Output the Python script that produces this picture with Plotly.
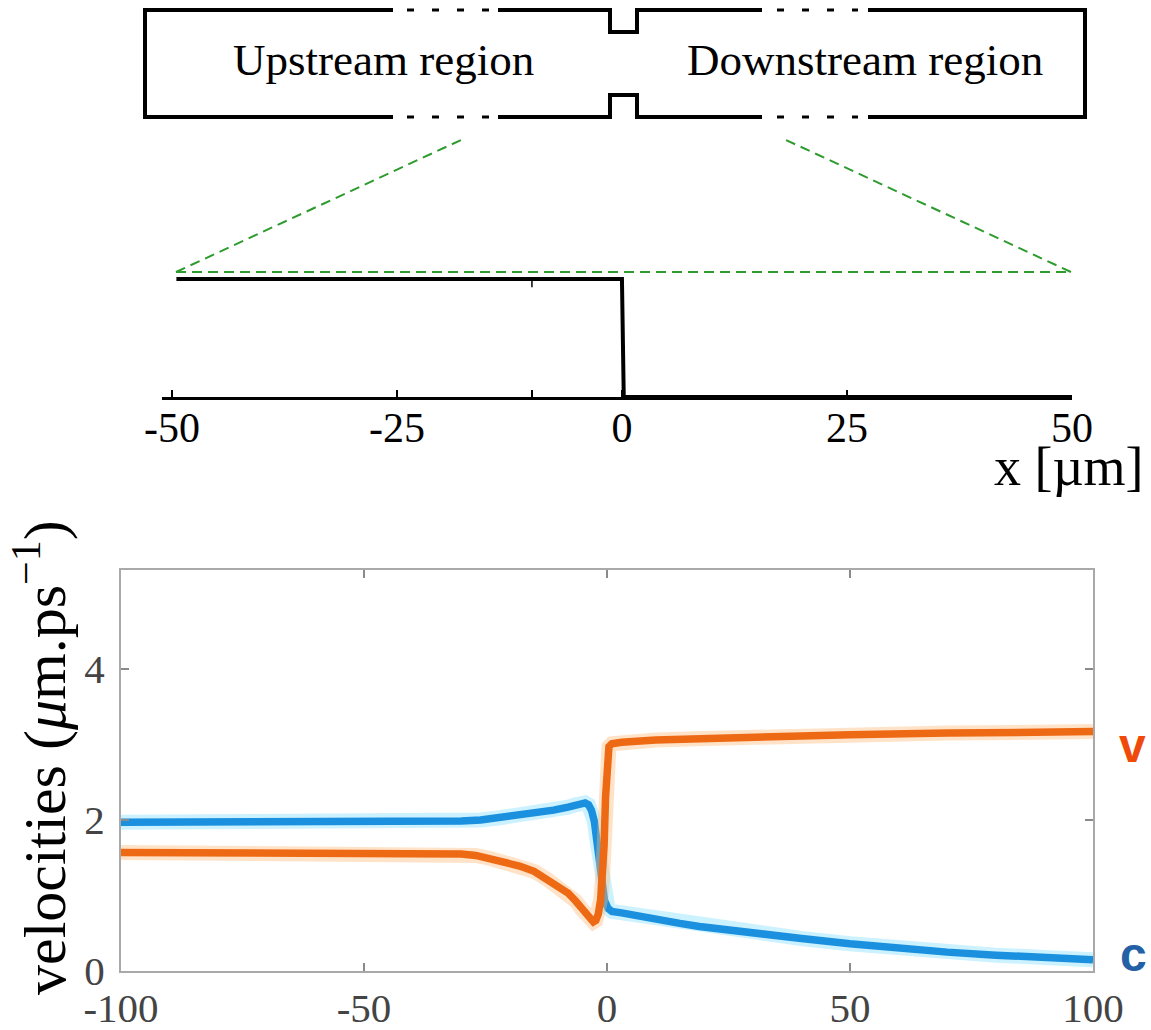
import plotly.graph_objects as go

W, H = 1151, 1030

# ---------------- data: velocities (bottom panel) ----------------
x_c = [-100, -80, -60, -45, -40, -35, -30, -26, -22, -18, -14, -11, -8, -6.5, -5.5,
       -4.5, -3.8, -3.2, -2.6, -2.1, -1.6, -1.1, -0.5, 0.2, 1.0, 3, 6, 10, 15, 19, 25,
       30, 40, 50, 60, 70, 80, 90, 100]
c_vals = [1.97, 1.97, 1.97, 1.97, 1.97, 1.975, 1.985, 2.0, 2.03, 2.06, 2.10, 2.13, 2.17,
          2.20, 2.22, 2.225, 2.20, 2.13, 1.98, 1.75, 1.45, 1.15, 0.93, 0.83, 0.79, 0.77,
          0.73, 0.68, 0.63, 0.59, 0.54, 0.50, 0.43, 0.36, 0.30, 0.25, 0.21, 0.18, 0.15]

x_v = [-100, -80, -60, -45, -40, -35, -30, -27, -24, -21, -18, -15, -12.4, -10, -8,
       -6.5, -5.2, -4.2, -3.4, -2.8, -2.3, -1.8, -1.3, -0.9, -0.6, -0.3, 0.0, 0.4,
       1.0, 3, 10, 20, 35, 50, 70, 100]
v_vals = [1.57, 1.57, 1.57, 1.57, 1.57, 1.565, 1.55, 1.53, 1.49, 1.44, 1.39, 1.32, 1.22,
          1.12, 1.03, 0.93, 0.82, 0.73, 0.67, 0.65, 0.67, 0.75, 0.95, 1.25, 1.65, 2.3,
          2.8, 2.97, 3.01, 3.03, 3.06, 3.08, 3.11, 3.13, 3.15, 3.17]

vel_xticks = [-100, -50, 0, 50, 100]
vel_xticktext = ["-100", "-50", "0", "50", "100"]
vel_yticks = [0, 2, 4]

# ---------------- data: step profile (middle panel) ----------------
x_step = [-49.5, 0.0, 0.2, 50.0]
y_step = [1, 1, 0, 0]
step_ticks = [-50, -25, 0, 25, 50]
step_ticktext = ["-50", "-25", "0", "25", "50"]
step_minor_ticks = [-10]

ORANGE = "#EE6914"
BLUE = "#1A90DE"
SERIF = "Liberation Serif"


def px(x):
    return x / W


def py(y):
    return 1 - y / H


fig = go.Figure()

# glow + main lines
fig.add_trace(go.Scatter(x=x_c, y=c_vals, mode="lines", xaxis="x", yaxis="y",
                         line=dict(color="rgba(110,215,255,0.35)", width=15),
                         hoverinfo="skip", showlegend=False))
fig.add_trace(go.Scatter(x=x_c, y=c_vals, mode="lines", xaxis="x", yaxis="y",
                         line=dict(color=BLUE, width=7.5), name="c", showlegend=False))
fig.add_trace(go.Scatter(x=x_v, y=v_vals, mode="lines", xaxis="x", yaxis="y",
                         line=dict(color="rgba(255,185,120,0.40)", width=15),
                         hoverinfo="skip", showlegend=False))
fig.add_trace(go.Scatter(x=x_v, y=v_vals, mode="lines", xaxis="x", yaxis="y",
                         line=dict(color=ORANGE, width=7.5), name="v", showlegend=False))

# step profile
fig.add_trace(go.Scatter(x=x_step, y=y_step, mode="lines", xaxis="x2", yaxis="y2",
                         line=dict(color="black", width=4), showlegend=False))

grey_axis = dict(showline=True, linecolor="#a9a9a9", linewidth=2, mirror="ticks",
                 ticks="inside", ticklen=8, tickwidth=2, tickcolor="#8a8a8a",
                 showgrid=False, zeroline=False, automargin=False,
                 tickfont=dict(family=SERIF, size=41, color="#444444"))

fig.update_layout(
    width=W, height=H,
    margin=dict(l=0, r=0, t=0, b=0, pad=0, autoexpand=False),
    paper_bgcolor="white", plot_bgcolor="rgba(0,0,0,0)",
    showlegend=False,
    xaxis=dict(domain=[px(121), px(1093)], range=[-100, 100], anchor="y",
               tickvals=vel_xticks, ticktext=vel_xticktext, ticklabelstandoff=0,
               **grey_axis),
    yaxis=dict(domain=[py(971), py(570)], range=[0, 5.31], anchor="x",
               tickvals=vel_yticks, ticklabelstandoff=6, **grey_axis),
    xaxis2=dict(domain=[px(162), px(1072)], range=[-51.1, 50], anchor="y2",
                showline=True, linecolor="black", linewidth=2.5, ticks="inside",
                ticklen=7, tickwidth=1.5, tickcolor="black", showgrid=False,
                zeroline=False, automargin=False, ticklabelstandoff=-8,
                tickvals=step_ticks, ticktext=step_ticktext,
                minor=dict(tickvals=step_minor_ticks, ticks="inside", ticklen=7,
                           tickwidth=1.5, tickcolor="black", showgrid=False),
                tickfont=dict(family=SERIF, size=42, color="black")),
    yaxis2=dict(domain=[py(397), py(397 - 1.2 * 118)], range=[0, 1.2], anchor="x2",
                visible=False, automargin=False),
)

shapes = []

# channel outline (schematic, pixel geometry)
outline_paths = [
    [(393, 10), (145, 10), (145, 117), (393, 117)],
    [(498, 10), (610, 10), (610, 32), (637, 32), (637, 10), (762, 10)],
    [(498, 117), (610, 117), (610, 95), (637, 95), (637, 117), (762, 117)],
    [(868, 10), (1085, 10), (1085, 117), (868, 117)],
]
for pts in outline_paths:
    d = "M " + " L ".join(f"{px(x):.5f},{py(y):.5f}" for x, y in pts)
    shapes.append(dict(type="path", path=d, xref="paper", yref="paper",
                       line=dict(color="black", width=4)))

dotted_segments = [((407, 10), (491, 10)), ((407, 117), (491, 117)),
                   ((777, 10), (858, 10)), ((777, 117), (858, 117))]
for (x0, y0), (x1, y1) in dotted_segments:
    shapes.append(dict(type="line", xref="paper", yref="paper",
                       x0=px(x0), y0=py(y0), x1=px(x1), y1=py(y1),
                       line=dict(color="black", width=3, dash="7px,18px")))

GREEN = "#2E9B2E"
green_segments = [((176, 272), (1071, 272)), ((176, 272), (461, 140)),
                  ((1071, 272), (786, 140))]
for (x0, y0), (x1, y1) in green_segments:
    shapes.append(dict(type="line", xref="paper", yref="paper",
                       x0=px(x0), y0=py(y0), x1=px(x1), y1=py(y1),
                       line=dict(color=GREEN, width=2, dash="10px,6px")))

# extra tick on the upper level of the step profile
shapes.append(dict(type="line", xref="x2", yref="y2", x0=-10, x1=-10, y0=1, y1=0.93,
                   line=dict(color="black", width=1.5)))

fig.update_layout(shapes=shapes)

annotations = [
    dict(text="Upstream region", x=px(383), y=py(60), font=dict(family=SERIF, size=45, color="black")),
    dict(text="Downstream region", x=px(865), y=py(60), font=dict(family=SERIF, size=45, color="black")),
    dict(text="x [µm]", x=px(1146), y=py(467), xanchor="right",
         font=dict(family=SERIF, size=54, color="black")),
    dict(text="velocities (<i>μ</i>m.ps<sup>−1</sup>)", x=px(40), y=py(758), textangle=-90,
         font=dict(family=SERIF, size=60, color="black")),
    dict(text="<b>v</b>", x=px(1132), y=py(745),
         font=dict(family="Liberation Sans", size=48, color="#F04A0A")),
    dict(text="<b>c</b>", x=px(1133), y=py(954),
         font=dict(family="Liberation Sans", size=48, color="#2360A5")),
]
for a in annotations:
    a.setdefault("xref", "paper")
    a.setdefault("yref", "paper")
    a.setdefault("xanchor", "center")
    a.setdefault("yanchor", "middle")
    a["showarrow"] = False
fig.update_layout(annotations=annotations)

fig.write_html("out.html")
